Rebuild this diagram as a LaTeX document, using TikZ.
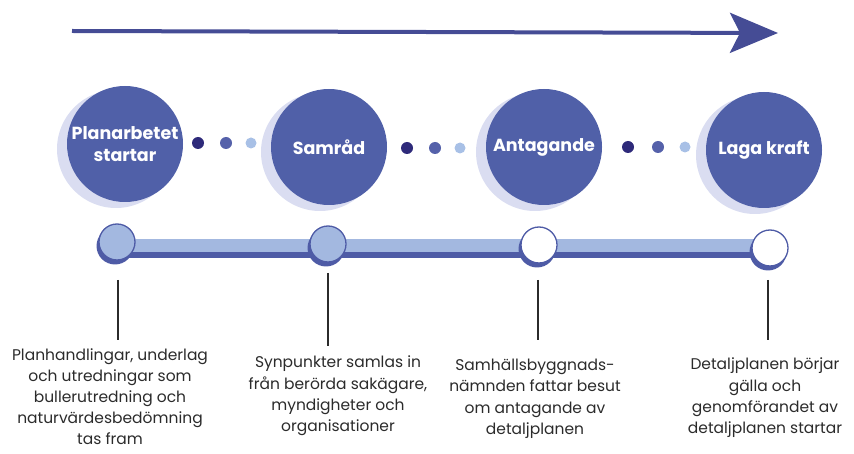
\documentclass[tikz,border=0pt]{standalone}
\usepackage{fontspec}
\setmainfont{Poppins}
\usetikzlibrary{arrows.meta}
\definecolor{arrowc}{HTML}{454C95}
\definecolor{bigc}{HTML}{5060A8}
\definecolor{shadowc}{HTML}{DADDF1}
\definecolor{dotA}{HTML}{2E2A7A}
\definecolor{dotB}{HTML}{5561AA}
\definecolor{dotC}{HTML}{A8C0E6}
\definecolor{barlight}{HTML}{A3B8E0}
\definecolor{bardark}{HTML}{4E5BA6}
\definecolor{txt}{HTML}{2B2B2B}
\tikzset{
  x=1pt, y=-1pt,
  bigcirc/.style={circle, fill=bigc, minimum size=116pt, inner sep=0pt, text=white,
    font=\fontsize{17.5}{22}\selectfont\bfseries, align=center},
  bigshadow/.style={circle, fill=shadowc, minimum size=118pt, inner sep=0pt},
  smalldot/.style={circle, minimum size=12pt, inner sep=0pt},
  marker/.style={circle, draw=bardark, line width=1.3pt, minimum size=36pt, inner sep=0pt},
  markershadow/.style={circle, fill=bardark, minimum size=37pt, inner sep=0pt},
  desc/.style={text=txt, align=center, font=\fontsize{15.5}{21.3}\selectfont, anchor=north, inner sep=1pt},
  tick/.style={draw=txt, line width=1.2pt}
}
\begin{document}
\begin{tikzpicture}
\useasboundingbox (0,0) rectangle (854,454);
% top arrow
\coordinate (as) at (72,31);
\coordinate (ae) at (778,33);
\draw[arrowc, line width=4pt, -{Stealth[length=48pt, width=40pt, inset=10pt]}] (as) -- (ae);
% big circles shadows
\node[bigshadow] (s1) at (116,149) {};
\node[bigshadow] (s2) at (320,152) {};
\node[bigshadow] (s3) at (535,152) {};
\node[bigshadow] (s4) at (755,155) {};
\node[bigcirc] (c1) at (125,144) {Planarbetet\\startar};
\node[bigcirc] (c2) at (329,147) {Samråd};
\node[bigcirc] (c3) at (544,147) {Antagande};
\node[bigcirc] (c4) at (764,150) {Laga kraft};
% dots
\node[smalldot, fill=dotA] (d11) at (198,143) {};
\node[smalldot, fill=dotB] (d12) at (226,143) {};
\node[smalldot, fill=dotC, minimum size=11pt] (d13) at (251,143) {};
\node[smalldot, fill=dotA] (d21) at (407,148) {};
\node[smalldot, fill=dotB] (d22) at (435,148) {};
\node[smalldot, fill=dotC, minimum size=11pt] (d23) at (460,148) {};
\node[smalldot, fill=dotA] (d31) at (628,147) {};
\node[smalldot, fill=dotB] (d32) at (658,147) {};
\node[smalldot, fill=dotC, minimum size=11pt] (d33) at (685,147) {};
% bar
\coordinate (b1) at (117,239);
\coordinate (b2) at (770,258);
\fill[bardark] (117,246) rectangle (b2);
\fill[barlight] (b1) rectangle (770,252);
% markers
\node[markershadow] (ms1) at (115,246) {};
\node[markershadow] (ms2) at (326,248) {};
\node[markershadow] (ms3) at (537,249) {};
\node[markershadow] (ms4) at (768,252) {};
\node[marker, fill=barlight] (m1) at (117,242) {};
\node[marker, fill=barlight] (m2) at (328,244) {};
\node[marker, fill=white] (m3) at (539,245) {};
\node[marker, fill=white] (m4) at (770,248) {};
% descriptions
\node[desc, font=\fontsize{15.5}{20.8}\selectfont] (t1) at (110,348) {Planhandlingar, underlag\\och utredningar som\\bullerutredning och\\naturvärdesbedömning\\tas fram};
\node[desc] (t2) at (338,355) {Synpunkter samlas in\\från berörda sakägare,\\myndigheter och\\organisationer};
\node[desc] (t3) at (535,358) {Samhällsbyggnads-\\nämnden fattar besut\\om antagande av\\detaljplanen};
\node[desc] (t4) at (765,357) {Detaljplanen börjar\\gälla och\\genomförandet av\\detaljplanen startar};
% ticks
\coordinate (v1a) at (118,280); \coordinate (v1b) at (118,340);
\coordinate (v2a) at (328,273); \coordinate (v2b) at (328,346);
\coordinate (v3a) at (538,280); \coordinate (v3b) at (538,340);
\coordinate (v4a) at (768,280); \coordinate (v4b) at (768,340);
\draw[tick] (v1a) -- (v1b);
\draw[tick] (v2a) -- (v2b);
\draw[tick] (v3a) -- (v3b);
\draw[tick] (v4a) -- (v4b);
\end{tikzpicture}
\end{document}
